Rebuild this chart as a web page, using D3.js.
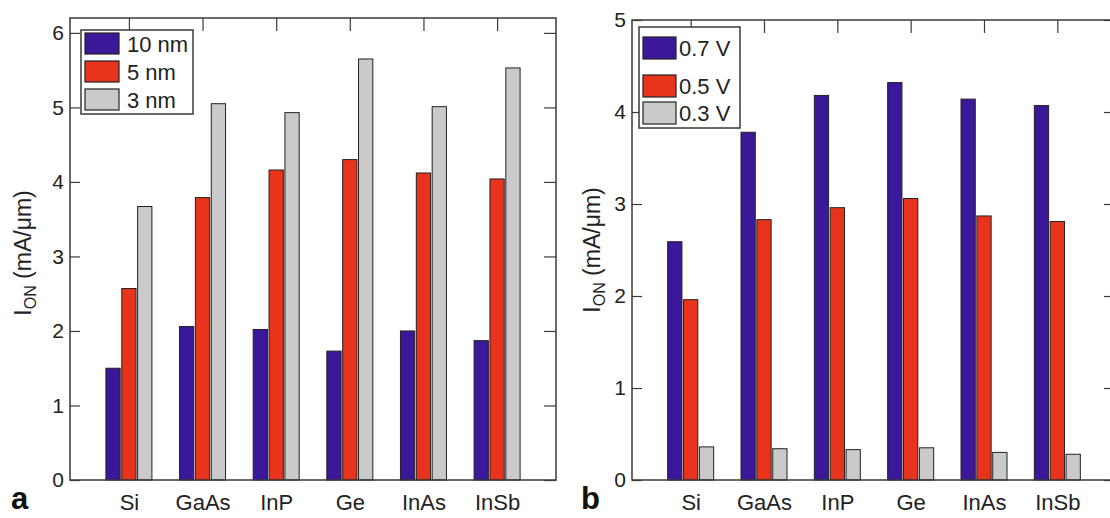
<!DOCTYPE html>
<html>
<head>
<meta charset="utf-8">
<script src="https://cdn.jsdelivr.net/npm/d3@7"></script>
<style>
  html, body { margin: 0; padding: 0; background: #fff; }
  svg { display: block; font-family: "Liberation Sans", Arial, Helvetica, sans-serif; }
</style>
</head>
<body>
<svg id="chart" width="1110" height="518"></svg>
<script>
// ---- data ----
const categories = ["Si", "GaAs", "InP", "Ge", "InAs", "InSb"];

const sizeSeries = ["10 nm", "5 nm", "3 nm"];
const ion10nm = [1.50, 2.06, 2.02, 1.73, 2.00, 1.87];
const ion5nm  = [2.57, 3.79, 4.16, 4.30, 4.12, 4.04];
const ion3nm  = [3.67, 5.05, 4.93, 5.65, 5.01, 5.53];

const voltSeries = ["0.7 V", "0.5 V", "0.3 V"];
const ion07V = [2.59, 3.78, 4.18, 4.32, 4.14, 4.07];
const ion05V = [1.96, 2.83, 2.96, 3.06, 2.87, 2.81];
const ion03V = [0.36, 0.34, 0.33, 0.35, 0.30, 0.28];

const yTicksA = [0, 1, 2, 3, 4, 5, 6];
const yTicksB = [0, 1, 2, 3, 4, 5];

const seriesColors = ["#3b1899", "#e8341c", "#cacaca"];

// ---- drawing ----
const svg = d3.select("#chart");
const frameColor = "#3a3a3a";

function panel(cfg) {
  const g = svg.append("g");
  const x = d3.scalePoint().domain(categories).range([cfg.left, cfg.right]).padding(0.8);
  const y = d3.scaleLinear().domain([0, cfg.yMax]).range([cfg.bottom, cfg.top]);
  const inner = d3.scaleBand().domain(cfg.series).range([-23, 23]).paddingInner(0.1);

  // bars
  cfg.series.forEach((s, si) => {
    g.append("g").selectAll("rect")
      .data(categories.map((c, i) => ({ c, v: cfg.values[si][i] })))
      .join("rect")
      .attr("x", d => x(d.c) + inner(s))
      .attr("width", inner.bandwidth())
      .attr("y", d => y(d.v))
      .attr("height", d => y(0) - y(d.v))
      .attr("fill", seriesColors[si])
      .attr("stroke", "#222")
      .attr("stroke-width", 1);
  });

  // axes with inward ticks
  const yl = g.append("g").attr("transform", `translate(${cfg.left},0)`)
    .call(d3.axisLeft(y).tickValues(cfg.yTicks).tickSize(-10).tickPadding(6).tickFormat(d3.format("d")));
  const yr = g.append("g").attr("transform", `translate(${cfg.right},0)`)
    .call(d3.axisRight(y).tickValues(cfg.yTicks).tickSize(-12).tickFormat(""));
  const xt = g.append("g").attr("transform", `translate(0,${cfg.top})`)
    .call(d3.axisTop(x).tickSize(-13).tickFormat(""));
  const xb = g.append("g").attr("transform", `translate(0,${cfg.bottom})`)
    .call(d3.axisBottom(x).tickSize(0).tickPadding(14));

  [yl, yr, xt, xb].forEach(a => {
    a.select(".domain").remove();
    a.selectAll("line").attr("stroke", frameColor).attr("stroke-width", 1.2);
  });
  yl.selectAll("text").attr("font-size", 21).attr("fill", "#222")
    .attr("font-family", "Liberation Sans, Arial, sans-serif");
  xb.selectAll("text").attr("font-size", 22).attr("fill", "#222")
    .attr("font-family", "Liberation Sans, Arial, sans-serif");

  // frame
  g.append("rect")
    .attr("x", cfg.left).attr("y", cfg.top)
    .attr("width", cfg.right - cfg.left).attr("height", cfg.bottom - cfg.top)
    .attr("fill", "none").attr("stroke", frameColor).attr("stroke-width", 1.5);

  // y label
  const lab = g.append("text")
    .attr("transform", `translate(${cfg.labelX},${cfg.labelY}) rotate(-90)`)
    .attr("text-anchor", "middle").attr("font-size", 23).attr("fill", "#222");
  lab.append("tspan").text("I");
  lab.append("tspan").text("ON").attr("font-size", 16).attr("dy", 5);
  lab.append("tspan").text(" (mA/μm)").attr("dy", -5);

  // panel letter
  g.append("text").attr("x", cfg.letterX).attr("y", 509)
    .attr("font-size", 31).attr("font-weight", "bold").attr("fill", "#111")
    .text(cfg.letter);

  // legend
  const lg = g.append("g");
  lg.append("rect")
    .attr("x", cfg.legend.x).attr("y", cfg.legend.y)
    .attr("width", cfg.legend.w).attr("height", cfg.legend.h)
    .attr("fill", "#fff").attr("stroke", frameColor).attr("stroke-width", 1.5);
  cfg.series.forEach((s, si) => {
    const yy = cfg.legend.y + cfg.legend.rows[si];
    lg.append("rect")
      .attr("x", cfg.legend.x + 4).attr("y", yy)
      .attr("width", cfg.legend.sw).attr("height", cfg.legend.sh)
      .attr("fill", seriesColors[si]).attr("stroke", "#222").attr("stroke-width", 1.2);
    lg.append("text")
      .attr("x", cfg.legend.x + cfg.legend.tx).attr("y", yy + cfg.legend.sh / 2 + 8)
      .attr("font-size", 22).attr("fill", "#222").text(s);
  });
}

panel({
  left: 70, right: 556, top: 18, bottom: 480, yMax: 6.2,
  series: sizeSeries, values: [ion10nm, ion5nm, ion3nm], yTicks: yTicksA,
  labelX: 31, labelY: 253, letter: "a", letterX: 11,
  legend: { x: 81, y: 30, w: 112, h: 84, sw: 34, sh: 21, tx: 46, rows: [3, 31, 59] }
});

panel({
  left: 632, right: 1116, top: 20, bottom: 480, yMax: 5,
  series: voltSeries, values: [ion07V, ion05V, ion03V], yTicks: yTicksB,
  labelX: 600, labelY: 250, letter: "b", letterX: 581,
  legend: { x: 639, y: 27, w: 101, h: 101, sw: 33, sh: 22, tx: 40, rows: [10, 48, 75] }
});
</script>
</body>
</html>
